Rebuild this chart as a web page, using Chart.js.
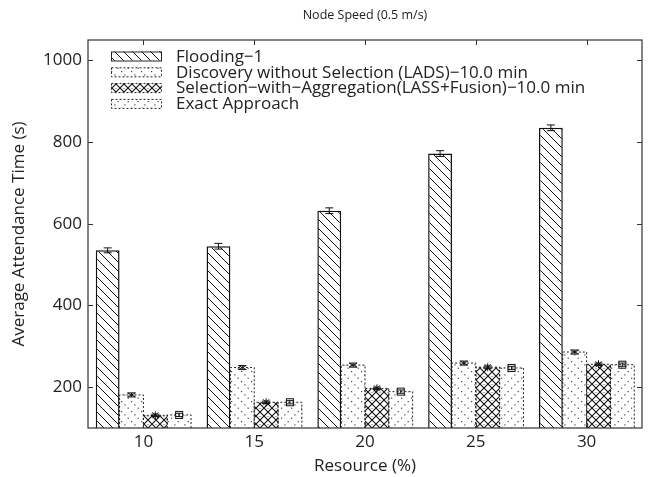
<!DOCTYPE html>
<html>
<head>
<meta charset="utf-8">
<script src="https://cdn.jsdelivr.net/npm/chart.js@4.4.1/dist/chart.umd.min.js"></script>
<style>
  html, body { margin: 0; padding: 0; background: #fff; }
  #wrap { width: 649px; height: 477px; }
</style>
</head>
<body>
<div id="wrap"><canvas id="chartSpeed"></canvas></div>
<script>
// resource percentages on the x axis
const resources = ['10', '15', '20', '25', '30'];
const yTicks = [200, 400, 600, 800, 1000];

// average attendance time (s) per approach
const flooding = [535, 545, 632, 772, 835];
const lads = [181, 248, 254, 259, 286];
const selection = [131, 163, 197, 249, 256];
const exact = [132, 163, 189, 247, 255];

// half-widths of the error bars
const floodingErr = [6, 7, 7, 7, 7];
const ladsErr = [5, 5, 5, 5, 5];
const selectionErr = [3, 3, 3, 3, 3];
const exactErr = [4, 4, 4, 4, 4];

const labels = [
  'Flooding\u22121',
  'Discovery without Selection (LADS)\u221210.0 min',
  'Selection\u2212with\u2212Aggregation(LASS+Fusion)\u221210.0 min',
  'Exact Approach'
];

const FONT = '"Open Sans", "DejaVu Sans", sans-serif';
const INK = '#222';
const FS = 17;

function hatch(kind) {
  const c = document.createElement('canvas');
  const s = kind === 'cross' ? 8 : (kind === 'lines' ? 9 : 10);
  c.width = s; c.height = s;
  const g = c.getContext('2d');
  g.fillStyle = '#fff';
  g.fillRect(0, 0, s, s);
  g.strokeStyle = '#111';
  g.fillStyle = '#444';
  if (kind === 'lines') {
    g.lineWidth = 1;
    g.beginPath();
    g.moveTo(-1, -1); g.lineTo(s + 1, s + 1);
    g.moveTo(-1, s - 1); g.lineTo(1, s + 1);
    g.moveTo(s - 1, -1); g.lineTo(s + 1, 1);
    g.stroke();
  } else if (kind === 'dotsBack') {
    // dotted "\" lines
    g.fillRect(1, 1, 1.2, 1.2);
    g.fillRect(4.3, 4.3, 1.2, 1.2);
    g.fillRect(7.6, 7.6, 1.2, 1.2);
  } else if (kind === 'dotsFwd') {
    // dotted "/" lines
    g.fillRect(1, 7.6, 1.2, 1.2);
    g.fillRect(4.3, 4.3, 1.2, 1.2);
    g.fillRect(7.6, 1, 1.2, 1.2);
  } else if (kind === 'cross') {
    g.lineWidth = 1.1;
    g.beginPath();
    g.moveTo(0, 0); g.lineTo(s, s);
    g.moveTo(0, s); g.lineTo(s, 0);
    g.stroke();
    g.fillStyle = '#666';
    g.fillRect(s / 2 - 0.5, 0, 1, 1);
  }
  const ctx = document.createElement('canvas').getContext('2d');
  return ctx.createPattern(c, 'repeat');
}

const fills = [hatch('lines'), hatch('dotsBack'), hatch('cross'), hatch('dotsFwd')];
const errs = [floodingErr, ladsErr, selectionErr, exactErr];

function marker(ctx, kind, x, y, lo, hi) {
  ctx.save();
  ctx.strokeStyle = '#111';
  ctx.lineWidth = 1;
  ctx.setLineDash([]);
  const w = 4;
  ctx.beginPath();
  ctx.moveTo(x, lo); ctx.lineTo(x, hi);
  ctx.moveTo(x - w, lo); ctx.lineTo(x + w, lo);
  ctx.moveTo(x - w, hi); ctx.lineTo(x + w, hi);
  if (kind === 1) {
    // hourglass
    ctx.moveTo(x - w, lo); ctx.lineTo(x + w, hi);
    ctx.moveTo(x + w, lo); ctx.lineTo(x - w, hi);
  } else if (kind === 2) {
    // asterisk
    ctx.moveTo(x - 4, y); ctx.lineTo(x + 4, y);
    ctx.moveTo(x - 3, y - 3); ctx.lineTo(x + 3, y + 3);
    ctx.moveTo(x + 3, y - 3); ctx.lineTo(x - 3, y + 3);
    ctx.moveTo(x, y - 4); ctx.lineTo(x, y + 4);
  }
  ctx.stroke();
  if (kind === 3) {
    ctx.strokeRect(x - 3.5, y - 3.5, 7, 7);
  }
  ctx.restore();
}

const decorations = {
  id: 'decorations',
  afterDatasetsDraw(chart) {
    const { ctx, chartArea: a, scales } = chart;
    const ys = scales.y;
    // dashed outlines for the dotted bars
    ctx.save();
    ctx.beginPath();
    ctx.rect(a.left, a.top, a.right - a.left, a.bottom - a.top);
    ctx.clip();
    for (let d = 1; d < 4; d++) {
      const meta = chart.getDatasetMeta(d);
      meta.data.forEach(bar => {
        const half = bar.width / 2;
        ctx.strokeStyle = '#222';
        ctx.lineWidth = 1;
        ctx.setLineDash([2, 2]);
        ctx.beginPath();
        ctx.moveTo(bar.x - half, a.bottom);
        ctx.lineTo(bar.x - half, bar.y);
        ctx.lineTo(bar.x + half, bar.y);
        ctx.lineTo(bar.x + half, a.bottom);
        ctx.stroke();
      });
    }
    ctx.restore();
    // error bars with markers
    for (let d = 0; d < 4; d++) {
      const meta = chart.getDatasetMeta(d);
      const vals = chart.data.datasets[d].data;
      meta.data.forEach((bar, i) => {
        const lo = ys.getPixelForValue(vals[i] - errs[d][i]);
        const hi = ys.getPixelForValue(vals[i] + errs[d][i]);
        marker(ctx, d, bar.x, bar.y, lo, hi);
      });
    }
  },
  afterDraw(chart) {
    const { ctx, chartArea: a, scales } = chart;
    ctx.save();
    // frame
    ctx.strokeStyle = '#333';
    ctx.lineWidth = 1.2;
    ctx.setLineDash([]);
    ctx.strokeRect(a.left, a.top, a.right - a.left, a.bottom - a.top);
    // inward tick marks
    ctx.lineWidth = 1;
    ctx.beginPath();
    yTicks.forEach(v => {
      const y = Math.round(scales.y.getPixelForValue(v)) + 0.5;
      ctx.moveTo(a.left, y); ctx.lineTo(a.left + 5, y);
      ctx.moveTo(a.right, y); ctx.lineTo(a.right - 5, y);
    });
    resources.forEach((r, i) => {
      const x = Math.round(scales.x.getPixelForValue(i)) + 0.5;
      ctx.moveTo(x, a.top); ctx.lineTo(x, a.top + 5);
      ctx.moveTo(x, a.bottom); ctx.lineTo(x, a.bottom - 5);
    });
    ctx.stroke();

    // title
    ctx.fillStyle = INK;
    ctx.font = '12.5px ' + FONT;
    ctx.textAlign = 'center';
    ctx.textBaseline = 'middle';
    ctx.fillText('Node Speed (0.5 m/s)', (a.left + a.right) / 2, 15);

    // legend inside the axes
    const bx = a.left + 23, bw = 50, bh = 9;
    ctx.textAlign = 'left';
    ctx.font = FS + 'px ' + FONT;
    labels.forEach((t, i) => {
      const cy = a.top + 16 + i * 15.8;
      ctx.fillStyle = fills[i];
      ctx.fillRect(bx, cy - bh / 2, bw, bh);
      ctx.strokeStyle = '#222';
      ctx.lineWidth = 1;
      ctx.setLineDash(i === 0 ? [] : [2, 2]);
      ctx.strokeRect(bx + 0.5, cy - bh / 2 + 0.5, bw, bh);
      ctx.setLineDash([]);
      ctx.fillStyle = INK;
      ctx.fillText(t, bx + 65, cy + 1);
    });
    ctx.restore();
  }
};

new Chart(document.getElementById('chartSpeed').getContext('2d'), {
  type: 'bar',
  data: {
    labels: resources,
    datasets: [
      { label: labels[0], data: flooding, backgroundColor: fills[0], borderColor: '#111', borderWidth: 1.5 },
      { label: labels[1], data: lads, backgroundColor: fills[1], borderWidth: 0 },
      { label: labels[2], data: selection, backgroundColor: fills[2], borderWidth: 0 },
      { label: labels[3], data: exact, backgroundColor: fills[3], borderWidth: 0 }
    ]
  },
  options: {
    responsive: true,
    maintainAspectRatio: false,
    animation: false,
    layout: { padding: { top: 40, right: 7, left: 0, bottom: 0 } },
    datasets: { bar: { categoryPercentage: 0.86, barPercentage: 1 } },
    plugins: {
      legend: { display: false },
      title: { display: false },
      tooltip: { enabled: false }
    },
    scales: {
      x: {
        grid: { display: false, drawTicks: false },
        border: { display: false },
        ticks: { color: INK, font: { family: FONT, size: FS }, padding: 4 },
        title: { display: true, text: 'Resource (%)', color: INK, font: { family: FONT, size: FS }, padding: { top: 0, bottom: 1 } },
        afterFit(scale) { scale.height = 49; }
      },
      y: {
        min: 100,
        max: 1050,
        afterBuildTicks(scale) { scale.ticks = yTicks.map(v => ({ value: v })); },
        grid: { display: false, drawTicks: false },
        border: { display: false },
        ticks: { color: INK, font: { family: FONT, size: FS }, padding: 6, callback: v => String(v) },
        title: { display: true, text: 'Average Attendance Time (s)', color: INK, font: { family: FONT, size: FS }, padding: { top: 9, bottom: 2 } },
        afterFit(scale) { scale.width = 88; }
      }
    }
  },
  plugins: [decorations]
});
</script>
</body>
</html>
